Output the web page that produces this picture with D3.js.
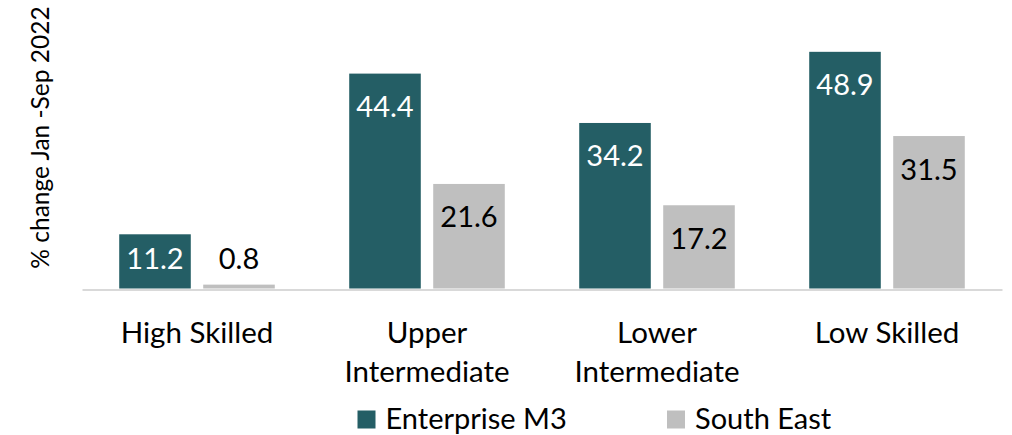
<!DOCTYPE html>
<html>
<head>
<meta charset="utf-8">
<script src="https://cdn.jsdelivr.net/npm/d3@7/dist/d3.min.js"></script>
<style>
  html, body { margin: 0; padding: 0; background: #ffffff; }
  svg { display: block; font-family: Lato, "Open Sans", sans-serif; }
</style>
</head>
<body>
<svg id="chart" width="1012" height="435"></svg>
<script>
// Skill levels and the % change for each area
const categories = ["High Skilled", "Upper\nIntermediate", "Lower\nIntermediate", "Low Skilled"];
const seriesNames = ["Enterprise M3", "South East"];
const enterpriseM3 = [11.2, 44.4, 34.2, 48.9];
const southEast = [0.8, 21.6, 17.2, 31.5];
const yTitle = "% change Jan -Sep 2022";

const colors = { "Enterprise M3": "#245e65", "South East": "#bfbfbf" };
const labelColors = { "Enterprise M3": "#ffffff", "South East": "#000000" };

const rows = categories.map((c, i) => ({
  category: c,
  values: [
    { series: seriesNames[0], value: enterpriseM3[i] },
    { series: seriesNames[1], value: southEast[i] }
  ]
}));

const svg = d3.select("#chart");

const x0 = d3.scaleBand().domain(categories).range([82, 1002]).paddingInner(0).paddingOuter(0);
const x1 = d3.scaleBand().domain(seriesNames).range([0, x0.bandwidth()])
  .paddingInner(0.148).paddingOuter(0.443);
const y = d3.scaleLinear().domain([0, 50]).range([288.5, 46.5]);

// Bars
const groups = svg.append("g").selectAll("g")
  .data(rows).join("g")
  .attr("transform", d => `translate(${x0(d.category)},0)`);

groups.selectAll("rect")
  .data(d => d.values).join("rect")
  .attr("x", d => x1(d.series))
  .attr("y", d => y(d.value))
  .attr("width", x1.bandwidth())
  .attr("height", d => y(0) - y(d.value))
  .attr("fill", d => colors[d.series]);

// Value labels, inside the top of each bar (kept above the axis for short bars)
groups.selectAll("text.value")
  .data(d => d.values).join("text")
  .attr("class", "value")
  .attr("x", d => x1(d.series) + x1.bandwidth() / 2)
  .attr("y", d => Math.min(y(d.value) + 43.5, y(0) - 19.5))
  .attr("text-anchor", "middle")
  .attr("font-size", 29)
  .attr("fill", d => labelColors[d.series])
  .text(d => d3.format(".1f")(d.value));

// Category axis line
const xAxis = svg.append("g")
  .attr("transform", `translate(0,${y(0) + 1})`)
  .call(d3.axisBottom(x0).tickSize(0).tickFormat(""));
xAxis.select(".domain").attr("stroke", "#d9d9d9").attr("stroke-width", 2);

// Category labels (wrapped onto two lines where needed)
const catLabels = svg.append("g").selectAll("text")
  .data(categories).join("text")
  .attr("x", d => x0(d) + x0.bandwidth() / 2)
  .attr("y", 343.3)
  .attr("text-anchor", "middle")
  .attr("font-size", 29.5)
  .attr("fill", "#000000");
catLabels.selectAll("tspan")
  .data(d => d.split("\n")).join("tspan")
  .attr("x", function () { return d3.select(this.parentNode).attr("x"); })
  .attr("dy", (d, i) => i === 0 ? 0 : 38.5)
  .text(d => d);

// Y axis title
svg.append("text")
  .attr("transform", "translate(48.5,137.5) rotate(-90)")
  .attr("text-anchor", "middle")
  .attr("font-size", 24.5)
  .attr("fill", "#000000")
  .text(yTitle);

// Legend
const legendX = [357.5, 667];
const legend = svg.append("g").selectAll("g")
  .data(seriesNames).join("g")
  .attr("transform", (d, i) => `translate(${legendX[i]},0)`);
legend.append("rect")
  .attr("x", 0).attr("y", 410.5)
  .attr("width", 18).attr("height", 18)
  .attr("fill", d => colors[d]);
legend.append("text")
  .attr("x", 28).attr("y", 428.5)
  .attr("font-size", 29)
  .attr("fill", "#000000")
  .text(d => d);
</script>
</body>
</html>
